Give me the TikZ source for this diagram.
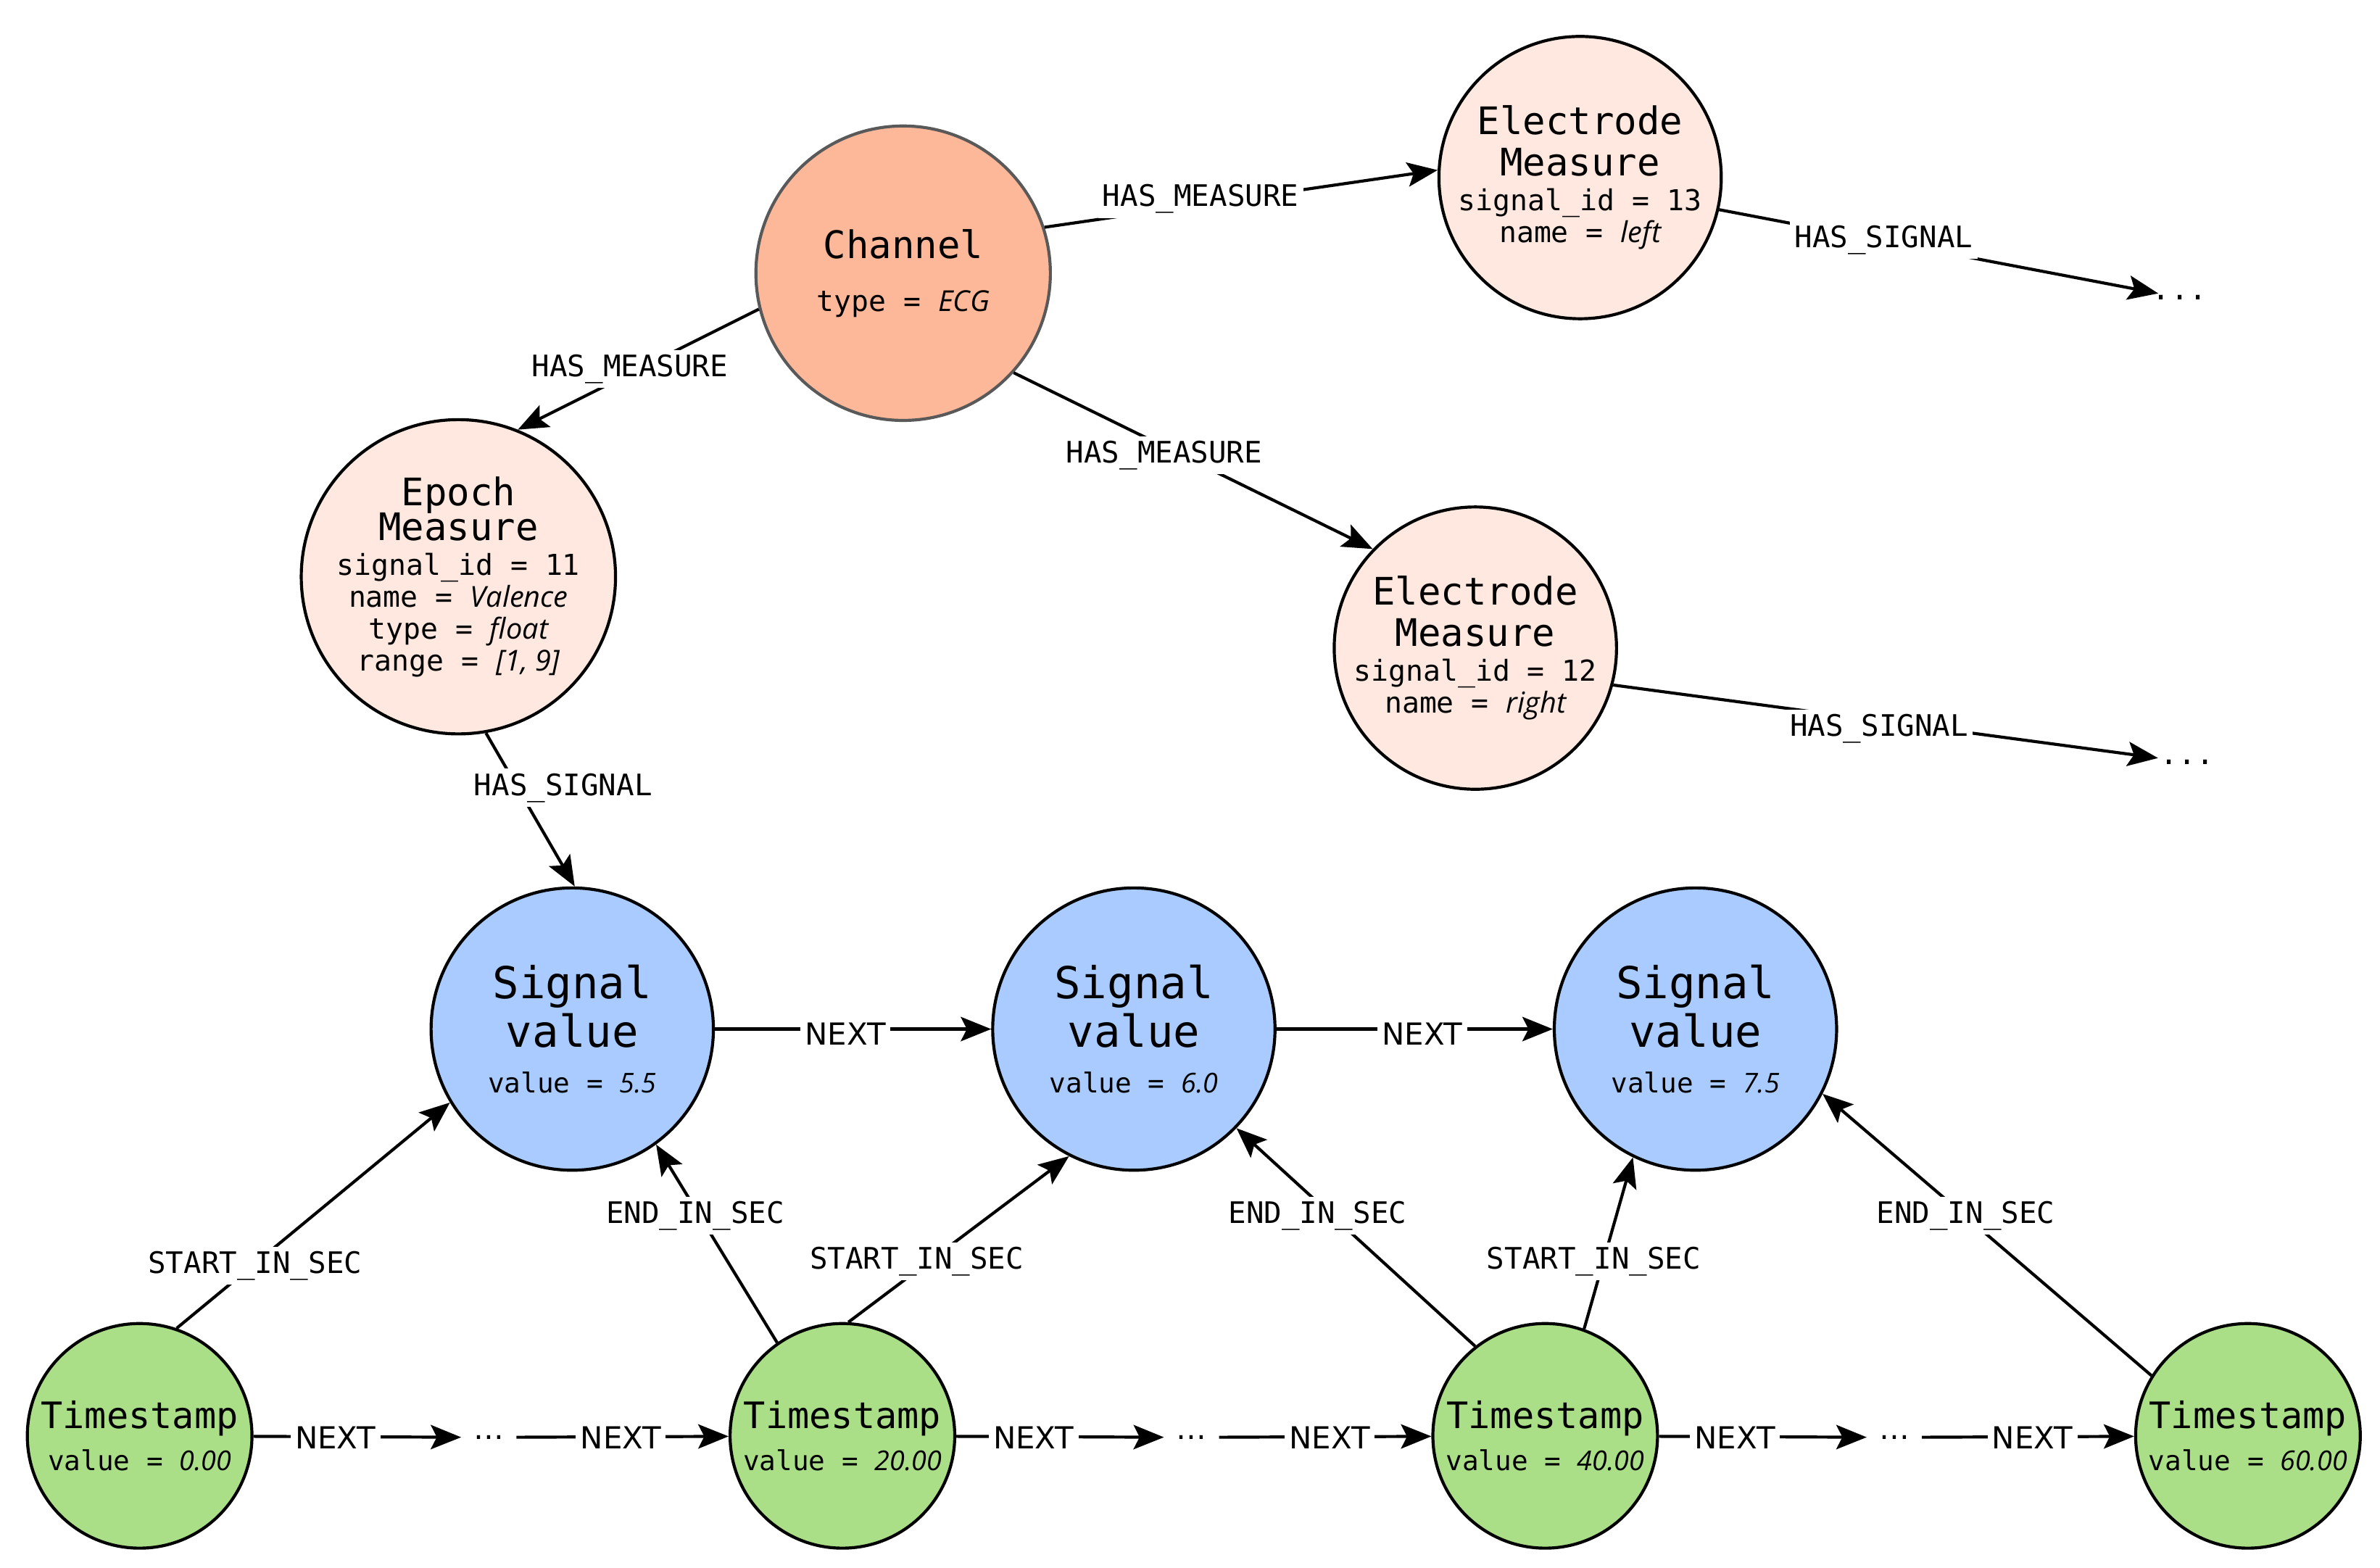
\documentclass[tikz,border=0pt]{standalone}
\usepackage{fontspec}
\setmainfont{DejaVu Sans Mono}
\newfontfamily\itf{Open Sans}
\newfontfamily\sansf{DejaVu Sans}
\usetikzlibrary{arrows.meta}
\begin{document}
\begin{tikzpicture}[x=1pt,y=-1pt,
  nd/.style={circle,draw=black,line width=2pt,inner sep=0pt,align=center},
  meas/.style={nd,fill=mpink,minimum size=186pt,font=\fontsize{25}{27}\selectfont},
  sig/.style={nd,fill=mblue,minimum size=186pt,font=\fontsize{29}{32}\selectfont},
  ts/.style={nd,fill=mgreen,minimum size=148pt,font=\fontsize{24}{28}\selectfont},
  lab/.style={fill=white,inner sep=3pt,font=\fontsize{19.5}{22}\selectfont},
  nlab/.style={lab,font=\sansf\fontsize{20}{22}\selectfont},
  e/.style={line width=2pt,-{Stealth[length=20pt,width=16pt,inset=4pt]}},
  sm/.style={font=\fontsize{20}{20}\selectfont}]
\definecolor{mpink}{HTML}{FFE8DF}
\definecolor{morange}{HTML}{FDB89A}
\definecolor{mblue}{HTML}{A9CBFF}
\definecolor{mgreen}{HTML}{AADF88}
\newcommand{\vv}[1]{{\itf\itshape #1}}
\useasboundingbox (0,0) rectangle (1568,1033);
\node[nd,fill=morange,draw=black!65,minimum size=194pt,font=\fontsize{25}{27}\selectfont] (ch) at (595,180) {Channel\\[8pt]{\fontsize{19}{20}\selectfont type = \vv{ECG}}};
\node[meas] (et) at (1041,117) {Electrode\\Measure\\[-4pt]{\fontsize{19}{19}\selectfont signal\_id = 13}\\[-6pt]{\fontsize{19}{19}\selectfont name = \vv{left}}};
\node[meas] (er) at (972,427) {Electrode\\Measure\\[-4pt]{\fontsize{19}{19}\selectfont signal\_id = 12}\\[-6pt]{\fontsize{19}{19}\selectfont name = \vv{right}}};
\node[meas] (ep) at (302,380) {Epoch\\[-4pt]Measure\\[-4pt]{\fontsize{19}{19}\selectfont signal\_id = 11}\\[-6pt]{\fontsize{19}{19}\selectfont name = \vv{Valence}}\\[-6pt]{\fontsize{19}{19}\selectfont type = \vv{float}}\\[-6pt]{\fontsize{19}{19}\selectfont range = \vv{[1, 9]}}};
\node[sig] (s1) at (377,678) {Signal\\value\\[-2pt]{\fontsize{18}{18}\selectfont value = \vv{5.5}}};
\node[sig] (s2) at (747,678) {Signal\\value\\[-2pt]{\fontsize{18}{18}\selectfont value = \vv{6.0}}};
\node[sig] (s3) at (1117,678) {Signal\\value\\[-2pt]{\fontsize{18}{18}\selectfont value = \vv{7.5}}};
\node[ts] (t1) at (92,946) {Timestamp\\{\fontsize{18}{18}\selectfont value = \vv{0.00}}};
\node[ts] (t2) at (555,946) {Timestamp\\{\fontsize{18}{18}\selectfont value = \vv{20.00}}};
\node[ts] (t3) at (1018,946) {Timestamp\\{\fontsize{18}{18}\selectfont value = \vv{40.00}}};
\node[ts] (t4) at (1481,946) {Timestamp\\{\fontsize{18}{18}\selectfont value = \vv{60.00}}};
\node[sm,inner sep=1pt] (dt) at (1436,196) {...};
\node[sm,inner sep=1pt] (dr) at (1441,502) {...};
\node[sm,inner sep=8pt] (d1) at (322,947) {\sansf\dots};
\node[sm,inner sep=8pt] (d2) at (785,947) {\sansf\dots};
\node[sm,inner sep=8pt] (d3) at (1248,947) {\sansf\dots};
% edges
\draw[e] (ch.18.6) -- (et.177); \node[lab] (l1) at (791,131) {HAS\_MEASURE};
\draw[e] (ch.194) -- (ep.68.6); \node[lab] (l2) at (415,243) {HAS\_MEASURE};
\draw[e] (ch.-42.5) -- (er.136.7); \node[lab] (l3) at (767,300) {HAS\_MEASURE};
\draw[e] (et.-13) -- (dt); \node[lab] (l4) at (1241,158) {HAS\_SIGNAL};
\draw[e] (er.-15) -- (dr); \node[lab] (l5) at (1238,480) {HAS\_SIGNAL};
\draw[e] (ep.-80) -- (s1.89.4); \node[lab] (l6) at (371,519) {HAS\_SIGNAL};
\draw[e] (s1) -- (s2); \node[nlab] (l7) at (557,681) {NEXT};
\draw[e] (s2) -- (s3); \node[nlab] (l8) at (937,681) {NEXT};
\draw[e] (t1.71.3) -- (s1.211.5); \node[lab] (l9) at (168,834) {START\_IN\_SEC};
\draw[e] (t2.125) -- (s1.-54); \node[lab] (l10) at (458,801) {END\_IN\_SEC};
\draw[e] (t2.87.6) -- (s2.243.4); \node[lab] (l11) at (604,831) {START\_IN\_SEC};
\draw[e] (t3.128) -- (s2.-44.6); \node[lab] (l12) at (868,801) {END\_IN\_SEC};
\draw[e] (t3.70) -- (s3.244.5); \node[lab] (l13) at (1050,831) {START\_IN\_SEC};
\draw[e] (t4.148.4) -- (s3.-27); \node[lab] (l14) at (1295,801) {END\_IN\_SEC};
\draw[e] (t1) -- (d1); \node[nlab] at (221,947) {NEXT};
\draw[e] (d1) -- (t2); \node[nlab] at (409,947) {NEXT};
\draw[e] (t2) -- (d2); \node[nlab] at (681,947) {NEXT};
\draw[e] (d2) -- (t3); \node[nlab] at (876,947) {NEXT};
\draw[e] (t3) -- (d3); \node[nlab] at (1143,947) {NEXT};
\draw[e] (d3) -- (t4); \node[nlab] at (1339,947) {NEXT};
\end{tikzpicture}
\end{document}
